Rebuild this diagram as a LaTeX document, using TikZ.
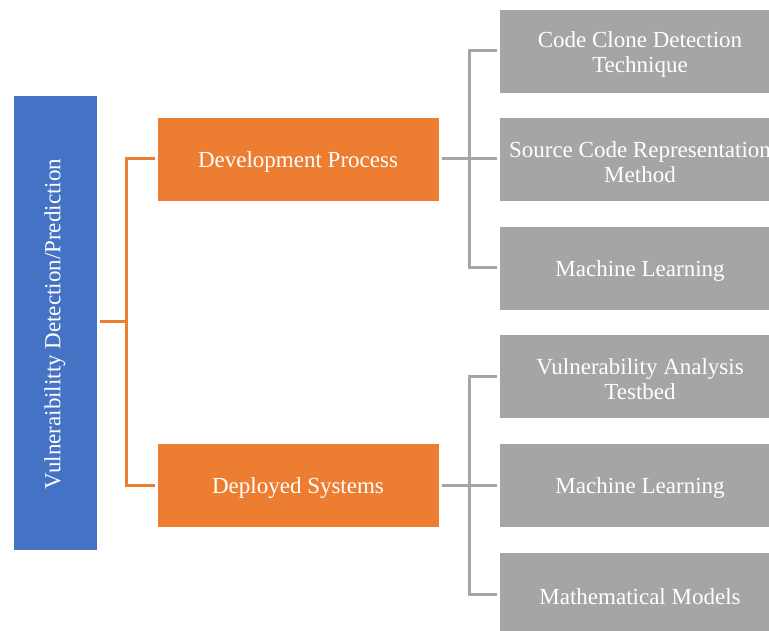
\documentclass[tikz,border=0pt]{standalone}
\usepackage{fontspec}
\setmainfont{Liberation Serif}
\definecolor{sblue}{HTML}{4472C4}
\definecolor{sorange}{HTML}{ED7D31}
\definecolor{sgray}{HTML}{A5A5A5}
\tikzset{
  base/.style={rectangle, draw=white, line width=0.8pt, inner sep=0pt},
  txt/.style={text=white, font=\fontsize{23}{25}\selectfont, align=center, inner sep=0pt, yshift=-3pt},
  rootbox/.style={base, fill=sblue, minimum width=84pt, minimum height=455pt},
  midbox/.style={base, fill=sorange, minimum width=282pt, minimum height=84pt},
  leafbox/.style={base, fill=sgray, minimum width=282pt, minimum height=84pt},
  oline/.style={draw=sorange, line width=3pt},
  gline/.style={draw=sgray, line width=3pt},
}
\begin{document}
\begin{tikzpicture}[x=1pt,y=-1pt]
\clip (0,0) rectangle (769,631);
\useasboundingbox (0,0) rectangle (769,631);
\fill[white] (0,0) rectangle (769,631);
% root
\node[rootbox] (root) at (55,322.5) {};
\node[txt, rotate=90, yshift=0pt, xshift=1.5pt] (roottext) at (root.center) {Vulneraibilitty Detection/Prediction};
% middle
\node[midbox, label={[txt]center:Development Process}] (dev) at (298,159) {};
\node[midbox, label={[txt]center:Deployed Systems}] (dep) at (298,485) {};
% leaves
\node[leafbox, label={[txt]center:{Code Clone Detection\\Technique}}] (l1) at (640,51) {};
\node[leafbox, label={[txt]center:{Source Code Representation\\Method}}] (l2) at (640,159) {};
\node[leafbox, label={[txt]center:Machine Learning}] (l3) at (640,268) {};
\node[leafbox, label={[txt]center:{Vulnerability Analysis\\Testbed}}] (l4) at (640,376) {};
\node[leafbox, label={[txt]center:Machine Learning}] (l5) at (640,485) {};
\node[leafbox, label={[txt]center:Mathematical Models}] (l6) at (640,594) {};
% orange connectors
\coordinate (oj) at (126,322);
\draw[oline] ([xshift=3pt]root.east |- oj) -- (oj);
\draw[oline] ([xshift=-2pt]dev.west) -| (oj) |- ([xshift=-2pt]dep.west);
% gray connectors
\coordinate (gj1) at (469,159);
\coordinate (gj2) at (469,485);
\draw[gline] ([xshift=3pt]dev.east) -- (gj1);
\draw[gline] ([xshift=-2pt]l1.west) -| (gj1) |- ([xshift=-2pt]l3.west);
\draw[gline] (gj1) -- ([xshift=-2pt]l2.west);
\draw[gline] ([xshift=3pt]dep.east) -- (gj2);
\draw[gline] ([xshift=-2pt]l4.west) -| (gj2) |- ([xshift=-2pt]l6.west);
\draw[gline] (gj2) -- ([xshift=-2pt]l5.west);
\end{tikzpicture}
\end{document}
